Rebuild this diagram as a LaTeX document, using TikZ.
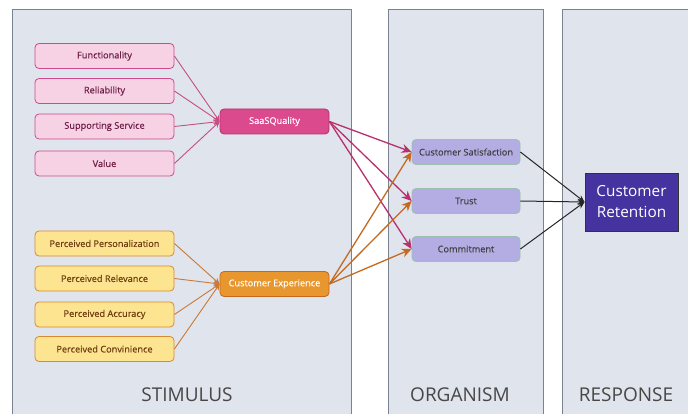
\documentclass[tikz,border=0pt]{standalone}
\usepackage{fontspec}
\setmainfont{Open Sans}
\newfontfamily\boxfont{Open Sans}[FakeBold=0.35]
\usetikzlibrary{arrows.meta}
\definecolor{panelfill}{HTML}{E0E4EC}
\definecolor{paneldraw}{HTML}{7A8292}
\definecolor{pinkfill}{HTML}{F7D1E4}
\definecolor{pinkdraw}{HTML}{CF4A8C}
\definecolor{pinktext}{HTML}{6E1E46}
\definecolor{saasfill}{HTML}{DC4A8E}
\definecolor{saasline}{HTML}{B8306E}
\definecolor{yelfill}{HTML}{FDE491}
\definecolor{yeldraw}{HTML}{D98A30}
\definecolor{yeltext}{HTML}{6E3E10}
\definecolor{cefill}{HTML}{E8962E}
\definecolor{celine}{HTML}{C46A20}
\definecolor{purfill}{HTML}{B3ADE3}
\definecolor{purdraw}{HTML}{9CBFB4}
\definecolor{retfill}{HTML}{45349F}
\begin{document}
\begin{tikzpicture}[x=1pt,y=-1pt,
  panel/.style={draw=paneldraw,fill=panelfill,line width=1pt},
  boxtext/.style={font=\boxfont\fontsize{9.2}{11}\selectfont},
  pinkbox/.style={boxtext,draw=pinkdraw,fill=pinkfill,rounded corners=4pt,minimum width=139pt,minimum height=25pt,text=pinktext,line width=0.8pt},
  yelbox/.style={boxtext,draw=yeldraw,fill=yelfill,rounded corners=4pt,minimum width=139pt,minimum height=25pt,text=yeltext,line width=0.8pt},
  hubbox/.style={boxtext,rounded corners=4pt,minimum width=109pt,minimum height=25pt,text=white,line width=0.8pt},
  purbox/.style={boxtext,draw=purdraw,fill=purfill,rounded corners=4pt,minimum width=108pt,minimum height=25pt,text=black!75,line width=0.8pt},
  pinkline/.style={draw=saasline!85,line width=0.9pt,-{Stealth[length=6pt,width=6pt]}},
  yelline/.style={draw=celine!90,line width=0.9pt,-{Stealth[length=6pt,width=6pt]}},
  pinkarrow/.style={draw=saasline,line width=1.3pt,-{Stealth[length=10pt,width=9pt]}},
  yelarrow/.style={draw=celine,line width=1.3pt,-{Stealth[length=10pt,width=9pt]}},
  blkarrow/.style={draw=black!85,line width=1pt,-{Stealth[length=7pt,width=6pt]}},
  paneltitle/.style={font=\fontsize{19}{22}\selectfont,text=black!72}
]
\useasboundingbox (0,0) rectangle (688,414);
\fill[white] (0,0) rectangle (688,414);
\fill[panelfill] (12,10) rectangle (351,420);
\fill[panelfill] (388,10) rectangle (543,420);
\fill[panelfill] (562,10) rectangle (695,420);
\draw[paneldraw,line width=1pt] (12,420) -- (12,10) -- (351,10) -- (351,420);
\draw[paneldraw,line width=1pt] (388,420) -- (388,10) -- (543,10) -- (543,420);
\draw[paneldraw,line width=1pt] (562,420) -- (562,10) -- (695,10);
\node[paneltitle] (tstim) at (187,395) {STIMULUS};
\node[paneltitle] (torg) at (460,395) {ORGANISM};
\node[paneltitle] (tresp) at (626,395) {RESPONSE};

\node[pinkbox] (f) at (104.5,56) {Functionality};
\node[pinkbox] (r) at (104.5,91) {Reliability};
\node[pinkbox] (s) at (104.5,126.5) {Supporting Service};
\node[pinkbox] (v) at (104.5,163.5) {Value};
\node[hubbox,draw=saasline,fill=saasfill] (sq) at (274.5,121.5) {SaaSQuality};

\node[yelbox] (pp) at (104.5,243.5) {Perceived Personalization};
\node[yelbox] (pr) at (104.5,278.5) {Perceived Relevance};
\node[yelbox] (pa) at (104.5,314.5) {Perceived Accuracy};
\node[yelbox] (pc) at (104.5,349) {Perceived Convinience};
\node[hubbox,draw=celine,fill=cefill] (ce) at (274.5,284) {Customer Experience};

\node[purbox] (cs) at (466,152) {Customer Satisfaction};
\node[purbox] (tr) at (466,201) {Trust};
\node[purbox] (cm) at (466,249) {Commitment};
\node[draw=black!80,fill=retfill,minimum width=93pt,minimum height=58pt,text=white,align=center,font=\fontsize{15.3}{21}\selectfont,line width=0.9pt] (cr) at (631.5,202) {Customer\\Retention};

\foreach \n in {f,r,s,v} \draw[pinkline] (\n.east) -- (sq.west);
\foreach \n in {pp,pr,pa,pc} \draw[yelline] (\n.east) -- (ce.west);
\foreach \n in {cs,tr,cm} {
  \draw[pinkarrow] (sq.east) -- (\n.west);
}
\foreach \n in {cs,tr,cm} {
  \draw[yelarrow] (ce.east) -- (\n.west);
}
\foreach \n in {cs,tr,cm} \draw[blkarrow] (\n.east) -- (cr.west);
\end{tikzpicture}
\end{document}
